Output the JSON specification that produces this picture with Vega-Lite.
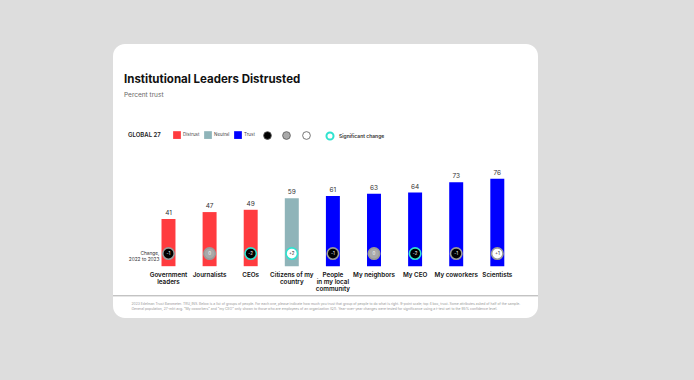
{
  "$schema": "https://vega.github.io/schema/vega-lite/v6.json",
  "autosize": {"type": "none"},
  "width": 425,
  "height": 274,
  "padding": {"left": 113, "top": 44, "right": 156, "bottom": 62},
  "background": "#dddddd",
  "view": {"fill": "white", "stroke": null, "cornerRadius": 12},
  "config": {"font": "Inter"},
  "title": {
    "text": "Institutional Leaders Distrusted",
    "subtitle": "Percent trust",
    "anchor": "start",
    "frame": "group",
    "offset": -54,
    "dx": 11,
    "fontSize": 11.5,
    "fontWeight": "bold",
    "color": "#111111",
    "subtitleFontSize": 6.5,
    "subtitleColor": "#666666",
    "subtitlePadding": 6
  },
  "data": {
    "values": [
      {"cat": "Government|leaders", "value": 41, "level": "Distrust", "change": "-1", "dir": "Decrease", "sig": "Not significant"},
      {"cat": "Journalists", "value": 47, "level": "Distrust", "change": "0", "dir": "No change", "sig": "Not significant"},
      {"cat": "CEOs", "value": 49, "level": "Distrust", "change": "-2", "dir": "Decrease", "sig": "Significant change"},
      {"cat": "Citizens of my|country", "value": 59, "level": "Neutral", "change": "+2", "dir": "Increase", "sig": "Significant change"},
      {"cat": "People|in my local|community", "value": 61, "level": "Trust", "change": "-1", "dir": "Decrease", "sig": "Not significant"},
      {"cat": "My neighbors", "value": 63, "level": "Trust", "change": "0", "dir": "No change", "sig": "Not significant"},
      {"cat": "My CEO", "value": 64, "level": "Trust", "change": "-2", "dir": "Decrease", "sig": "Significant change"},
      {"cat": "My coworkers", "value": 73, "level": "Trust", "change": "-1", "dir": "Decrease", "sig": "Not significant"},
      {"cat": "Scientists", "value": 76, "level": "Trust", "change": "+1", "dir": "Increase", "sig": "Not significant"}
    ]
  },
  "layer": [
    {
      "mark": {"type": "rule", "color": "#c4c4c4", "strokeWidth": 1},
      "encoding": {"y": {"datum": -25.5, "type": "quantitative", "scale": {"domain": [-45, 193], "nice": false, "zero": false}, "axis": null}}
    },
    {
      "mark": {"type": "bar"},
      "encoding": {
        "x": {
          "field": "cat",
          "type": "nominal",
          "sort": null,
          "scale": {"paddingInner": 0.66, "paddingOuter": 1.27, "align": 0.59},
          "axis": {
            "orient": "bottom",
            "offset": -52,
            "domain": false,
            "ticks": false,
            "labelAngle": 0,
            "labelExpr": "split(datum.label, '|')",
            "labelFontSize": 6.3,
            "labelFontWeight": 600,
            "labelColor": "#111111",
            "labelPadding": 5,
            "labelLineHeight": 7,
            "title": [
              "2023 Edelman Trust Barometer. TRU_INS. Below is a list of groups of people. For each one, please indicate how much you trust that group of people to do what is right. 9-point scale; top 4 box, trust. Some attributes asked of half of the sample.",
              "General population, 27-mkt avg. \"My coworkers\" and \"my CEO\" only shown to those who are employees of an organization (Q1). Year-over-year changes were tested for significance using a t-test set to the 95% confidence level."
            ],
            "titleFontSize": 3.4,
            "titleFontWeight": "normal",
            "titleColor": "#999999",
            "titleAnchor": "start",
            "titleAlign": "left",
            "titleBaseline": "top",
            "titleX": 18,
            "titleY": 35,
            "titleLineHeight": 5
          }
        },
        "y": {"field": "value", "type": "quantitative", "scale": {"domain": [-45, 193], "nice": false, "zero": false}, "axis": null},
        "y2": {"datum": 0},
        "color": {
          "field": "level",
          "type": "nominal",
          "scale": {"domain": ["Distrust", "Neutral", "Trust"], "range": ["#ff3b3f", "#8fb4b9", "#0000ff"]},
          "legend": {
            "title": "GLOBAL 27",
            "titleOrient": "left",
            "titleFontSize": 6,
            "titleFontWeight": 600,
            "titleColor": "#222222",
            "titlePadding": 12,
            "orient": "none",
            "legendX": 15,
            "legendY": 87,
            "direction": "horizontal",
            "symbolType": "square",
            "symbolSize": 60,
            "symbolStrokeWidth": 0,
            "labelFontSize": 4.5,
            "labelColor": "#444444",
            "labelOffset": 2,
            "columnPadding": 4
          }
        }
      }
    },
    {
      "mark": {"type": "text", "baseline": "bottom", "dy": -3, "fontSize": 6.5, "color": "#333333"},
      "encoding": {
        "x": {"field": "cat", "type": "nominal", "sort": null},
        "y": {"field": "value", "type": "quantitative"},
        "text": {"field": "value"}
      }
    },
    {
      "mark": {"type": "point", "filled": true, "size": 130, "strokeWidth": 1.6, "opacity": 1},
      "encoding": {
        "x": {"field": "cat", "type": "nominal", "sort": null},
        "y": {"datum": 11},
        "fill": {
          "field": "dir",
          "type": "nominal",
          "scale": {"domain": ["Decrease", "No change", "Increase"], "range": ["#000000", "#a9a9a9", "#ffffff"]},
          "legend": {
            "title": null,
            "orient": "none",
            "legendX": 150,
            "legendY": 87,
            "direction": "horizontal",
            "symbolType": "circle",
            "symbolSize": 60,
            "symbolStrokeColor": "#555555",
            "symbolStrokeWidth": 0.8,
            "labelFontSize": 1,
            "labelOpacity": 0,
            "columnPadding": 0
          }
        },
        "stroke": {
          "field": "sig",
          "type": "nominal",
          "scale": {"domain": ["Significant change", "Not significant"], "range": ["#2fe3cf", "#9a9a9a"]},
          "legend": {
            "title": null,
            "values": ["Significant change"],
            "orient": "none",
            "legendX": 212,
            "legendY": 87,
            "symbolType": "circle",
            "symbolSize": 50,
            "symbolStrokeWidth": 2,
            "symbolFillColor": "#ffffff",
            "labelFontSize": 5,
            "labelFontWeight": 600,
            "labelColor": "#333333"
          }
        }
      }
    },
    {
      "mark": {"type": "text", "fontSize": 4.5, "baseline": "middle"},
      "encoding": {
        "x": {"field": "cat", "type": "nominal", "sort": null},
        "y": {"datum": 11},
        "text": {"field": "change"},
        "color": {"condition": {"test": "datum.dir === 'Increase'", "value": "#222222"}, "value": "#ffffff"}
      }
    },
    {
      "data": {"values": [{"cat": "Government|leaders", "note": "Change,\n2022 to 2023"}]},
      "mark": {"type": "text", "align": "right", "baseline": "middle", "dx": -9, "fontSize": 4.8, "color": "#333333", "lineBreak": "\n", "lineHeight": 6},
      "encoding": {
        "x": {"field": "cat", "type": "nominal", "sort": null},
        "y": {"datum": 11},
        "text": {"field": "note"}
      }
    }
  ]
}
